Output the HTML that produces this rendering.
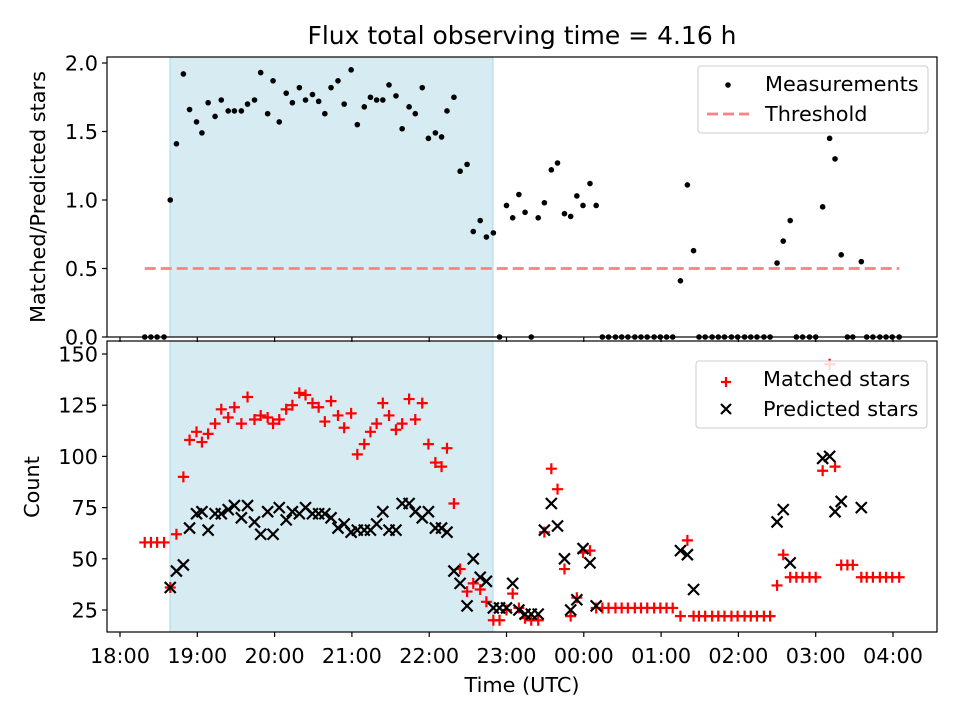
<!DOCTYPE html>
<html><head><meta charset="utf-8"><style>
body{margin:0;background:#fff;font-family:"Liberation Sans","DejaVu Sans",sans-serif}
svg text{font-family:"DejaVu Sans","Liberation Sans",sans-serif;fill:#000}
</style></head><body>
<svg id="c" width="960" height="720" viewBox="0 0 960 720"></svg>
<script>
// hours after 18:00 UTC
const times=[0.32,0.40,0.48,0.57,0.65,0.73,0.82,0.90,0.99,1.06,1.14,1.23,1.31,1.40,1.48,1.57,1.65,1.74,1.82,1.91,1.98,2.06,2.15,2.23,2.32,2.40,2.49,2.57,2.65,2.73,2.82,2.90,2.99,3.07,3.16,3.24,3.32,3.40,3.48,3.57,3.65,3.74,3.82,3.91,3.99,4.08,4.16,4.23,4.32,4.40,4.49,4.57,4.66,4.74,4.83,4.91,5.00,5.08,5.16,5.24,5.32,5.41,5.49,5.58,5.66,5.75,5.83,5.91,5.99,6.08,6.16,6.24,6.32,6.41,6.49,6.57,6.66,6.74,6.82,6.91,6.99,7.07,7.15,7.25,7.34,7.42,7.49,7.57,7.66,7.74,7.82,7.91,7.99,8.08,8.16,8.24,8.33,8.41,8.50,8.58,8.67,8.75,8.83,8.92,9.00,9.09,9.18,9.25,9.33,9.41,9.48,9.59,9.66,9.74,9.83,9.91,9.99,10.08];
const ratio=[0,0,0,0,1.00,1.41,1.92,1.66,1.57,1.49,1.71,1.61,1.73,1.65,1.65,1.65,1.70,1.73,1.93,1.63,1.87,1.57,1.78,1.71,1.82,1.73,1.77,1.72,1.63,1.82,1.87,1.70,1.95,1.55,1.68,1.75,1.73,1.73,1.84,1.76,1.52,1.68,1.63,1.82,1.45,1.49,1.46,1.65,1.75,1.21,1.26,0.77,0.85,0.73,0.76,0,0.96,0.87,1.04,0.91,0,0.87,0.98,1.22,1.27,0.90,0.88,1.03,0.96,1.12,0.96,0,0,0,0,0,0,0,0,0,0,0,0,0.41,1.11,0.63,0,0,0,0,0,0,0,0,0,0,0,0,0.54,0.70,0.85,0,0,0,0,0.95,1.45,1.30,0.60,0,0,0.55,0,0,0,0,0,0];
const matched=[58,58,58,58,36,62,90,108,112,107,111,116,123,119,124,116,129,118,120,119,116,118,123,125,131,130,126,124,117,127,120,114,121,101,106,112,116,126,120,113,116,128,118,126,106,97,95,104,77,45,34,38,35,29,20,20,25,33,26,21,20,20,63,94,84,45,22,31,53,54,26,26,26,26,26,26,26,26,26,26,26,26,26,22,59,22,22,22,22,22,22,22,22,22,22,22,22,22,37,52,41,41,41,41,41,93,145,95,47,47,47,41,41,41,41,41,41,41];
const predicted=[null,null,null,null,36,44,47,65,72,73,64,72,72,74,76,70,76,68,62,73,62,75,69,73,72,75,72,72,72,70,65,67,63,64,64,64,67,73,64,64,77,77,73,70,73,65,65,63,44,38,27,50,41,39,26,26,26,38,25,23,23,23,64,77,66,50,25,30,55,48,27,null,null,null,null,null,null,null,null,null,null,null,null,54,52,35,null,null,null,null,null,null,null,null,null,null,null,null,68,74,48,null,null,null,null,99,100,73,78,null,null,75,null,null,null,null,null,null];
const threshold=[0.5];
const xTicks=[0,1,2,3,4,5,6,7,8,9,10];
const xTickLabels=["18:00","19:00","20:00","21:00","22:00","23:00","00:00","01:00","02:00","03:00","04:00"];
const topTicks=[0,0.5,1.0,1.5,2.0];
const botTicks=[25,50,75,100,125,150];
const spanStart=[0.647], spanEnd=[4.825];

const NS="http://www.w3.org/2000/svg", svg=document.getElementById('c');
function el(t,a,p){const e=document.createElementNS(NS,t);for(const k in a)e.setAttribute(k,a[k]);(p||svg).appendChild(e);return e;}
const L=107,R=937,T1=57,B1=337,T2=341,B2=632;
const FS=20.8;
const x=t=>120+(t)*77.3;
const y1=v=>337-v*137;
const y2=v=>610-(v-25)*2.048;

let t=el('text',{x:522,y:44,'font-size':25,'text-anchor':'middle'});t.textContent='Flux total observing time = 4.16 h';



[[T1,B1],[T2,B2]].forEach((p,i)=>{
 const r=el('rect',{x:x(spanStart[0]),y:p[0],width:x(spanEnd[0])-x(spanStart[0]),height:p[1]-p[0],fill:'#add8e6','fill-opacity':0.5,stroke:'#add8e6','stroke-width':1});
 
 
});

const th=el('line',{x1:x(times[0]),x2:x(times[times.length-1]),y1:y1(threshold[0]),y2:y1(threshold[0]),stroke:'#ff8080','stroke-width':2.8,'stroke-dasharray':'11,5'});



const gTop=el('g',{});


times.forEach((tt,i)=>{const c=el('circle',{cx:x(tt),cy:y1(ratio[i]),r:2.8,fill:'#000'},gTop);
 
 });

const gM=el('g',{stroke:'#ff0000','stroke-width':2.2});


times.forEach((tt,i)=>{const cx=x(tt),cy=y2(matched[i]);
 const p=el('path',{d:`M${cx-5.5},${cy}H${cx+5.5}M${cx},${cy-5.5}V${cy+5.5}`},gM);
 
 });
const gP=el('g',{stroke:'#000','stroke-width':2.2});


times.forEach((tt,i)=>{if(predicted[i]==null)return;const cx=x(tt),cy=y2(predicted[i]);
 const p=el('path',{d:`M${cx-5.5},${cy-5.5}L${cx+5.5},${cy+5.5}M${cx-5.5},${cy+5.5}L${cx+5.5},${cy-5.5}`},gP);
 
 });

[[T1,B1],[T2,B2]].forEach((p,i)=>{const r=el('rect',{x:L,y:p[0],width:R-L,height:p[1]-p[0],fill:'none',stroke:'#000','stroke-width':1.2});
 
 });

xTicks.forEach((v,i)=>{const xx=x(v);
 el('line',{x1:xx,x2:xx,y1:B1,y2:B1+5,stroke:'#000','stroke-width':1.2});
 el('line',{x1:xx,x2:xx,y1:B2,y2:B2+5,stroke:'#000','stroke-width':1.2});
 const tx=el('text',{x:xx,y:B2+31,'font-size':FS,'text-anchor':'middle'});tx.textContent=xTickLabels[i];
 
 });
topTicks.forEach(v=>{const yy=y1(v);el('line',{x1:L-5,x2:L,y1:yy,y2:yy,stroke:'#000','stroke-width':1.2});
 const tx=el('text',{x:L-9,y:yy+7.5,'font-size':FS,'text-anchor':'end'});tx.textContent=v.toFixed(1);
 
 });
botTicks.forEach(v=>{const yy=y2(v);el('line',{x1:L-5,x2:L,y1:yy,y2:yy,stroke:'#000','stroke-width':1.2});
 const tx=el('text',{x:L-9,y:yy+7.5,'font-size':FS,'text-anchor':'end'});tx.textContent=v;
 
 });

t=el('text',{x:0,y:0,'font-size':FS,'text-anchor':'middle',transform:'translate(45,197) rotate(-90)'});t.textContent='Matched/Predicted stars';


t=el('text',{x:0,y:0,'font-size':FS,'text-anchor':'middle',transform:'translate(39,487) rotate(-90)'});t.textContent='Count';


t=el('text',{x:522,y:692,'font-size':FS,'text-anchor':'middle'});t.textContent='Time (UTC)';



function legend(x0,y0,w,name){const g=el('g',{});
 el('rect',{x:x0,y:y0,width:w,height:67,rx:3,fill:'#fff','fill-opacity':0.85,stroke:'#ccc'},g);return g;}
let g=legend(698,66,230,'top-legend');
el('circle',{cx:728,cy:85,r:2.8,fill:'#000'},g);
el('line',{x1:707,x2:749,y1:114,y2:114,stroke:'#ff8080','stroke-width':2.8,'stroke-dasharray':'11,5'},g);
t=el('text',{x:765,y:91,'font-size':FS},g);t.textContent='Measurements';

t=el('text',{x:765,y:121,'font-size':FS},g);t.textContent='Threshold';

g=legend(696,361,231,'bottom-legend');
el('path',{d:'M721,382H731M726,377V387',stroke:'#f00','stroke-width':2.2},g);
el('path',{d:'M721,404L731,414M721,414L731,404',stroke:'#000','stroke-width':2.2},g);
t=el('text',{x:763,y:386,'font-size':FS},g);t.textContent='Matched stars';

t=el('text',{x:763,y:416,'font-size':FS},g);t.textContent='Predicted stars';

</script>
</body></html>
